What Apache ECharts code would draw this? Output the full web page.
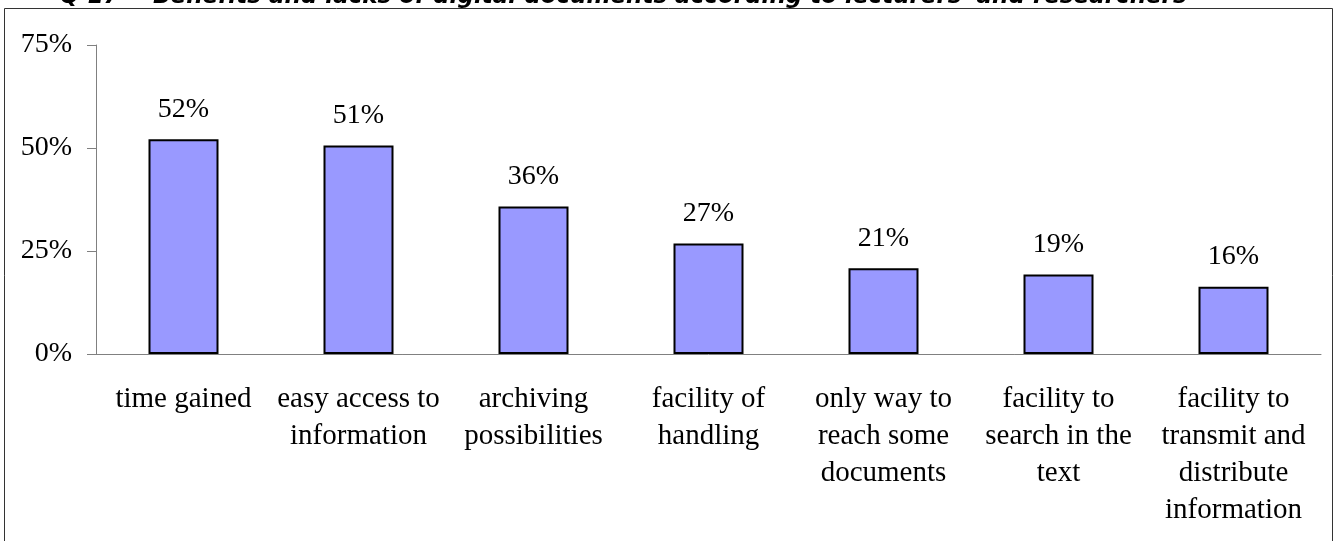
<!DOCTYPE html>
<html>
<head>
<meta charset="utf-8">
<script src="https://cdn.jsdelivr.net/npm/echarts@6/dist/echarts.min.js"></script>
<style>
  html, body { margin: 0; padding: 0; background: #fff; }
  #container { width: 1340px; height: 541px; }
</style>
</head>
<body>
<div id="container"></div>
<script>
// categories and shares
var categories = [
  'time gained',
  'easy access to\ninformation',
  'archiving\npossibilities',
  'facility of\nhandling',
  'only way to\nreach some\ndocuments',
  'facility to\nsearch in the\ntext',
  'facility to\ntransmit and\ndistribute\ninformation'
];
var shares = [52.1, 50.6, 35.8, 26.8, 20.8, 19.3, 16.3];
var yTicks = [0, 25, 50, 75];

var serif = '"Liberation Serif", "Times New Roman", serif';
var titleFont = { fontFamily: 'DejaVu Sans', fontWeight: 'bold', fontStyle: 'italic', fontSize: 23, color: '#000' };
var dom = document.getElementById('container');
var myChart = echarts.init(dom);

var option = {
  animation: false,
  backgroundColor: '#fff',
  title: [
    { text: 'Q 17', left: 55, top: -19, textStyle: titleFont },
    {
      text: "Benefits and lacks of digital documents according to lecturers' and researchers'",
      left: 148, top: -19, textStyle: titleFont
    }
  ],
  graphic: [{
    type: 'rect',
    shape: { x: 4.5, y: 8.5, width: 1328, height: 560 },
    style: { fill: 'none', stroke: '#333', lineWidth: 1 },
    silent: true
  }],
  grid: { left: 96, right: 19, top: 45, bottom: 187 },
  xAxis: {
    type: 'category',
    data: categories,
    axisLine: { lineStyle: { color: '#808080', width: 1 } },
    axisTick: { length: 6, lineStyle: { color: '#808080' } },
    axisLabel: {
      interval: 0,
      margin: 27,
      fontFamily: serif,
      fontSize: 29,
      lineHeight: 37,
      color: '#000'
    }
  },
  yAxis: {
    type: 'value',
    min: yTicks[0],
    max: yTicks[yTicks.length - 1],
    interval: 25,
    splitLine: { show: false },
    axisLine: { show: true, lineStyle: { color: '#808080', width: 1 } },
    axisTick: { show: true, length: 9, lineStyle: { color: '#808080' } },
    axisLabel: {
      margin: 24,
      fontFamily: serif,
      fontSize: 28,
      color: '#000',
      formatter: function (v) { return v + '%'; }
    }
  },
  series: [{
    type: 'bar',
    data: shares,
    barWidth: '40%',
    itemStyle: { color: '#9999FF', borderColor: '#000', borderWidth: 2 },
    label: {
      show: true,
      position: 'top',
      distance: 16,
      fontFamily: serif,
      fontSize: 28,
      color: '#000',
      formatter: function (p) { return Math.round(p.value) + '%'; }
    }
  }]
};

myChart.setOption(option);
</script>
</body>
</html>
